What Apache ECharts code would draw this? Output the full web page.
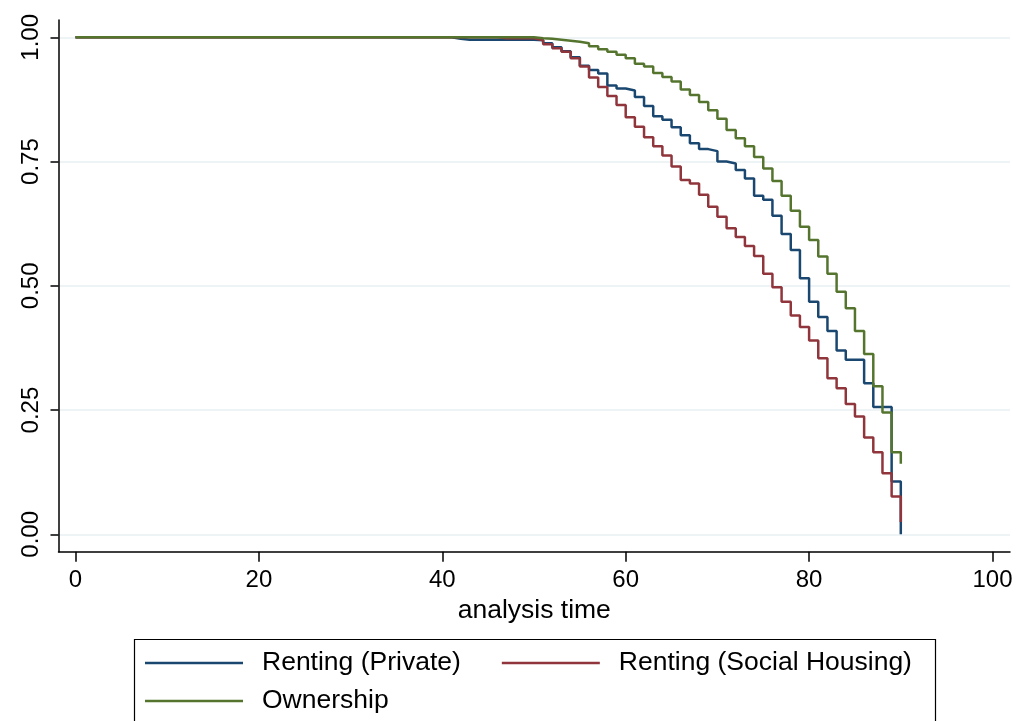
<!DOCTYPE html>
<html>
<head>
<meta charset="utf-8">
<script src="https://cdn.jsdelivr.net/npm/echarts@6/dist/echarts.min.js"></script>
<style>
html,body{margin:0;padding:0;background:#fff;}
#chart{width:1018px;height:721px;}
</style>
</head>
<body>
<div id="chart"></div>
<script>
// ---- data ----
var ages = [0, 41, 42, 43, 44, 45, 46, 47, 48, 49, 50, 51, 52, 53, 54, 55, 56, 57, 58, 59, 60,
            61, 62, 63, 64, 65, 66, 67, 68, 69, 70, 71, 72, 73, 74, 75, 76, 77, 78, 79, 80,
            81, 82, 83, 84, 85, 86, 87, 88, 89, 90];

var rentingPrivate = [1.000, 0.997, 0.995, 0.995, 0.995, 0.995, 0.995, 0.995, 0.995, 0.995, 0.994,
  0.988, 0.980, 0.972, 0.960, 0.943, 0.934, 0.927, 0.903, 0.897, 0.893,
  0.880, 0.862, 0.841, 0.834, 0.819, 0.803, 0.787, 0.775, 0.771, 0.750,
  0.746, 0.733, 0.716, 0.681, 0.673, 0.641, 0.604, 0.572, 0.515, 0.468,
  0.437, 0.409, 0.370, 0.351, 0.351, 0.304, 0.256, 0.256, 0.106, 0.000];

var rentingSocial = [1.000, 1.000, 1.000, 1.000, 1.000, 1.000, 0.998, 0.998, 0.998, 0.998, 0.994,
  0.986, 0.978, 0.971, 0.958, 0.941, 0.919, 0.900, 0.882, 0.864, 0.839,
  0.820, 0.799, 0.781, 0.762, 0.740, 0.713, 0.706, 0.683, 0.659, 0.639,
  0.616, 0.598, 0.580, 0.560, 0.524, 0.497, 0.468, 0.440, 0.417, 0.390,
  0.354, 0.314, 0.294, 0.262, 0.237, 0.195, 0.165, 0.123, 0.076, 0.025];

var ownership = [1.000, 1.000, 1.000, 1.000, 1.000, 1.000, 1.000, 1.000, 1.000, 1.000, 0.998,
  0.997, 0.995, 0.993, 0.991, 0.988, 0.982, 0.976, 0.971, 0.965, 0.958,
  0.947, 0.941, 0.928, 0.920, 0.911, 0.895, 0.884, 0.870, 0.853, 0.836,
  0.8135, 0.797, 0.781, 0.759, 0.736, 0.711, 0.681, 0.651, 0.619, 0.592,
  0.559, 0.524, 0.488, 0.455, 0.409, 0.363, 0.298, 0.245, 0.165, 0.142];

var seriesNames = ['Renting (Private)', 'Renting (Social Housing)', 'Ownership'];
var xTicks = [0, 20, 40, 60, 80, 100];
var yTicks = [0, 0.25, 0.5, 0.75, 1];
var xTitle = 'analysis time';

// ---- chart ----
var FONT = '"Liberation Sans", Arial, Helvetica, sans-serif';
var FS_TICK = 24;
var FS_TEXT = 26.5;
var colors = ['#1a476f', '#90353b', '#55752f'];

function pairs(vals) {
  return ages.map(function (a, i) { return [a, vals[i]]; });
}

var chart = echarts.init(document.getElementById('chart'), null, {renderer: 'canvas'});
var allVals = [rentingPrivate, rentingSocial, ownership];

chart.setOption({
  animation: false,
  backgroundColor: '#ffffff',
  textStyle: {fontFamily: FONT},
  grid: {left: 58.5, right: 8, top: 20, bottom: 169.3, containLabel: false},
  xAxis: {
    type: 'value',
    min: -1.854, max: 101.908,
    name: xTitle,
    nameLocation: 'middle',
    nameGap: 41,
    nameTextStyle: {fontSize: FS_TEXT, color: '#000', fontFamily: FONT},
    axisLine: {show: true, onZero: false, lineStyle: {color: '#000', width: 1.5}},
    axisTick: {show: true, length: 10, customValues: xTicks, lineStyle: {color: '#000', width: 1.5}},
    axisLabel: {show: true, customValues: xTicks, margin: 17, fontSize: FS_TICK, color: '#000', fontFamily: FONT},
    splitLine: {show: false}
  },
  yAxis: {
    type: 'value',
    min: -0.035, max: 1.0348,
    axisLine: {show: true, onZero: false, lineStyle: {color: '#000', width: 1.5}},
    axisTick: {show: true, length: 8, customValues: yTicks, lineStyle: {color: '#000', width: 1.5}},
    axisLabel: {show: true, customValues: yTicks, rotate: 90, margin: 15, fontSize: FS_TICK, color: '#000', fontFamily: FONT,
      formatter: function (v) { return v.toFixed(2); }},
    splitLine: {show: true, lineStyle: {color: '#e9f0f2', width: 1.5}}
  },
  legend: {
    data: seriesNames,
    left: 145, top: 648, width: 860,
    orient: 'horizontal',
    padding: 0,
    itemGap: 8,
    icon: 'rect',
    itemWidth: 98, itemHeight: 2.5,
    textStyle: {fontSize: FS_TEXT, color: '#000', fontFamily: FONT, lineHeight: 30, padding: [0, 33, 0, 14]}
  },
  graphic: [{
    type: 'rect',
    shape: {x: 134.5, y: 639.5, width: 801, height: 120},
    style: {fill: 'none', stroke: '#000', lineWidth: 1.2},
    silent: true
  }],
  series: seriesNames.map(function (n, i) {
    return {
      name: n,
      type: 'line',
      step: 'end',
      showSymbol: false,
      symbol: 'none',
      data: pairs(allVals[i]),
      lineStyle: {color: colors[i], width: 2.5},
      itemStyle: {color: colors[i]},
      z: 2 + i
    };
  })
});
</script>
</body>
</html>
